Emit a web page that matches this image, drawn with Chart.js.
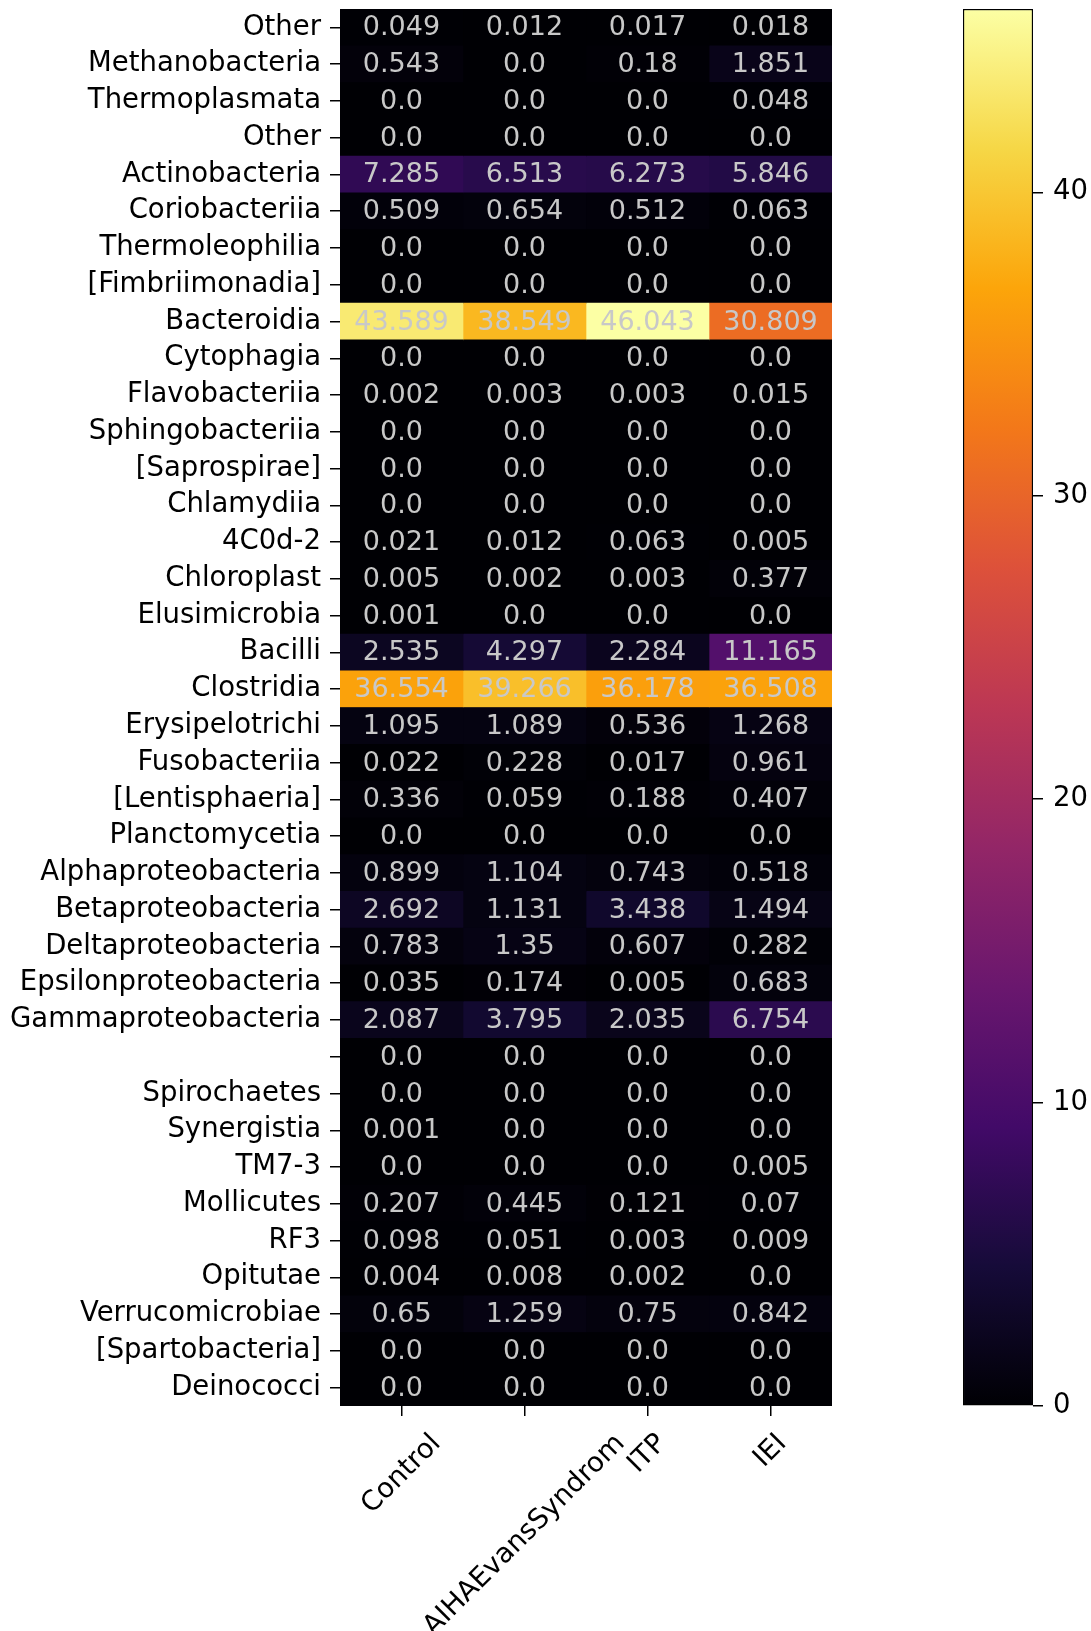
<!DOCTYPE html>
<html>
<head>
<meta charset="utf-8">
<script src="https://cdn.jsdelivr.net/npm/chart.js@4/dist/chart.umd.min.js"></script>
<style>
  html, body { margin: 0; padding: 0; background: #fff; }
  #wrap { position: relative; width: 1091px; height: 1631px; }
  #heat { position: absolute; left: 0; top: 0; }
  #cbar { position: absolute; left: 900px; top: 0; }
</style>
</head>
<body>
<div id="wrap">
  <canvas id="heat" width="860" height="1631"></canvas>
  <canvas id="cbar" width="191" height="1631"></canvas>
</div>
<script>
// Taxonomic classes (rows, top to bottom)
const classes = [
  'Other', 'Methanobacteria', 'Thermoplasmata', 'Other', 'Actinobacteria',
  'Coriobacteriia', 'Thermoleophilia', '[Fimbriimonadia]', 'Bacteroidia', 'Cytophagia',
  'Flavobacteriia', 'Sphingobacteriia', '[Saprospirae]', 'Chlamydiia', '4C0d-2',
  'Chloroplast', 'Elusimicrobia', 'Bacilli', 'Clostridia', 'Erysipelotrichi',
  'Fusobacteriia', '[Lentisphaeria]', 'Planctomycetia', 'Alphaproteobacteria', 'Betaproteobacteria',
  'Deltaproteobacteria', 'Epsilonproteobacteria', 'Gammaproteobacteria', '', 'Spirochaetes',
  'Synergistia', 'TM7-3', 'Mollicutes', 'RF3', 'Opitutae',
  'Verrucomicrobiae', '[Spartobacteria]', 'Deinococci'
];

// Patient groups (columns)
const groups = ['Control', 'AIHAEvansSyndrom', 'ITP', 'IEI'];

// Mean relative abundance (%) per class, one array per group
const control = [
  0.049, 0.543, 0.0, 0.0, 7.285, 0.509, 0.0, 0.0, 43.589, 0.0,
  0.002, 0.0, 0.0, 0.0, 0.021, 0.005, 0.001, 2.535, 36.554, 1.095,
  0.022, 0.336, 0.0, 0.899, 2.692, 0.783, 0.035, 2.087, 0.0, 0.0,
  0.001, 0.0, 0.207, 0.098, 0.004, 0.65, 0.0, 0.0
];
const aihaEvans = [
  0.012, 0.0, 0.0, 0.0, 6.513, 0.654, 0.0, 0.0, 38.549, 0.0,
  0.003, 0.0, 0.0, 0.0, 0.012, 0.002, 0.0, 4.297, 39.266, 1.089,
  0.228, 0.059, 0.0, 1.104, 1.131, 1.35, 0.174, 3.795, 0.0, 0.0,
  0.0, 0.0, 0.445, 0.051, 0.008, 1.259, 0.0, 0.0
];
const itp = [
  0.017, 0.18, 0.0, 0.0, 6.273, 0.512, 0.0, 0.0, 46.043, 0.0,
  0.003, 0.0, 0.0, 0.0, 0.063, 0.003, 0.0, 2.284, 36.178, 0.536,
  0.017, 0.188, 0.0, 0.743, 3.438, 0.607, 0.005, 2.035, 0.0, 0.0,
  0.0, 0.0, 0.121, 0.003, 0.002, 0.75, 0.0, 0.0
];
const iei = [
  0.018, 1.851, 0.048, 0.0, 5.846, 0.063, 0.0, 0.0, 30.809, 0.0,
  0.015, 0.0, 0.0, 0.0, 0.005, 0.377, 0.0, 11.165, 36.508, 1.268,
  0.961, 0.407, 0.0, 0.518, 1.494, 0.282, 0.683, 6.754, 0.0, 0.0,
  0.0, 0.005, 0.07, 0.009, 0.0, 0.842, 0.0, 0.0
];

// Colour bar tick values
const colorbarTicks = [0, 10, 20, 30, 40];

const groupValues = [control, aihaEvans, itp, iei];
const vmin = 0;
const vmax = Math.max(...groupValues.flat());

// Inferno colour map stops
const inferno = [
  '#000004', '#160b39', '#420a68', '#6a176e', '#932667', '#bc3754',
  '#dd513a', '#f37819', '#fca50a', '#f6d746', '#fcffa4'
];
function hexToRgb(h) {
  return [parseInt(h.slice(1, 3), 16), parseInt(h.slice(3, 5), 16), parseInt(h.slice(5, 7), 16)];
}
const infernoRgb = inferno.map(hexToRgb);
function infernoColor(t) {
  t = Math.min(1, Math.max(0, t));
  const pos = t * (infernoRgb.length - 1);
  const i = Math.min(Math.floor(pos), infernoRgb.length - 2);
  const f = pos - i;
  const a = infernoRgb[i], b = infernoRgb[i + 1];
  const c = a.map((v, k) => Math.round(v + (b[k] - v) * f));
  return `rgb(${c[0]},${c[1]},${c[2]})`;
}
function colorFor(v) { return infernoColor((v - vmin) / (vmax - vmin)); }

function fmtValue(v) {
  return Number.isInteger(v) ? v.toFixed(1) : String(v);
}

const FONT = '"DejaVu Sans", "Liberation Sans", sans-serif';
const FS = 27.5;
Chart.defaults.font.family = FONT;
Chart.defaults.font.size = FS;
Chart.defaults.color = '#000';

// Keep tick labels from pushing the plot area inward
function noEdgePadding(scale) {
  scale.paddingTop = 0;
  scale.paddingBottom = 0;
}

// Dark backdrop under the cells
const cellBackdrop = {
  id: 'cellBackdrop',
  beforeDatasetsDraw(chart) {
    const a = chart.chartArea, ctx = chart.ctx;
    ctx.save();
    ctx.fillStyle = infernoColor(0);
    ctx.fillRect(a.left, a.top, a.right - a.left, a.bottom - a.top);
    ctx.restore();
  }
};

// Value annotation inside each cell
const cellText = {
  id: 'cellText',
  afterDatasetsDraw(chart) {
    const ctx = chart.ctx;
    ctx.save();
    ctx.font = `27px ${FONT}`;
    ctx.fillStyle = '#c8c8c8';
    ctx.textAlign = 'center';
    ctx.textBaseline = 'middle';
    chart.data.datasets.forEach((ds, di) => {
      chart.getDatasetMeta(di).data.forEach((bar, ri) => {
        const p = bar.getProps(['x', 'base', 'y'], true);
        ctx.fillText(fmtValue(groupValues[di][ri]), (p.x + p.base) / 2, p.y + 1);
      });
    });
    ctx.restore();
  }
};

// Rotated group names, centred under each column tick
const groupLabels = {
  id: 'groupLabels',
  afterDraw(chart) {
    const ctx = chart.ctx;
    const xs = chart.scales.x;
    const top = chart.chartArea.bottom + 10 + 12;
    const lineH = FS * 1.16;
    ctx.save();
    ctx.font = `${FS}px ${FONT}`;
    ctx.fillStyle = '#000';
    ctx.textAlign = 'center';
    ctx.textBaseline = 'middle';
    groups.forEach((g, i) => {
      const cx = xs.getPixelForValue(i + 0.5);
      const w = ctx.measureText(g).width;
      const boxH = (w + lineH) * Math.SQRT1_2;
      ctx.save();
      ctx.translate(cx, top + boxH / 2);
      ctx.rotate(-Math.PI / 4);
      ctx.fillText(g, 0, 0);
      ctx.restore();
    });
    ctx.restore();
  }
};

new Chart(document.getElementById('heat'), {
  type: 'bar',
  data: {
    labels: classes,
    datasets: groupValues.map((vals, gi) => ({
      label: groups[gi],
      data: vals.map(() => [gi, gi + 1]),
      backgroundColor: vals.map(colorFor),
      borderWidth: 0,
      grouped: false,
      barPercentage: 1,
      categoryPercentage: 1
    }))
  },
  options: {
    indexAxis: 'y',
    responsive: false,
    animation: false,
    events: [],
    layout: { padding: { top: 9, right: 28, left: 0, bottom: 0 } },
    plugins: { legend: { display: false }, tooltip: { enabled: false } },
    scales: {
      y: {
        type: 'category',
        offset: true,
        border: { display: false },
        grid: { offset: false, drawOnChartArea: false, drawTicks: true, tickLength: 10, color: '#000', lineWidth: 1.5 },
        ticks: { autoSkip: false, padding: 9, color: '#000', font: { size: FS } },
        afterFit(scale) { scale.width = 340; noEdgePadding(scale); }
      },
      x: {
        type: 'linear',
        min: 0,
        max: groups.length,
        border: { display: false },
        grid: { drawOnChartArea: false, drawTicks: true, tickLength: 10, color: '#000', lineWidth: 1.5 },
        ticks: { callback: () => '', maxRotation: 0, autoSkip: false },
        afterBuildTicks(scale) { scale.ticks = groups.map((g, i) => ({ value: i + 0.5 })); },
        afterFit(scale) { scale.height = 225; }
      }
    }
  },
  plugins: [cellBackdrop, cellText, groupLabels]
});

// Colour bar
new Chart(document.getElementById('cbar'), {
  type: 'bar',
  data: {
    labels: [''],
    datasets: [{
      data: [[vmin, vmax]],
      backgroundColor(ctx) {
        const area = ctx.chart.chartArea;
        if (!area) return null;
        const g = ctx.chart.ctx.createLinearGradient(0, area.bottom, 0, area.top);
        inferno.forEach((c, i) => g.addColorStop(i / (inferno.length - 1), c));
        return g;
      },
      borderColor: '#000',
      borderWidth: 1.5,
      borderSkipped: false,
      barPercentage: 1,
      categoryPercentage: 1
    }]
  },
  options: {
    responsive: false,
    animation: false,
    events: [],
    layout: { padding: { top: 9, left: 63, right: 0, bottom: 225 } },
    plugins: { legend: { display: false }, tooltip: { enabled: false } },
    scales: {
      x: { display: false },
      y: {
        position: 'right',
        min: vmin,
        max: vmax,
        border: { display: false },
        grid: { drawOnChartArea: false, drawTicks: true, tickLength: 10, color: '#000', lineWidth: 1.5 },
        ticks: { padding: 10, color: '#000', font: { size: FS }, includeBounds: false },
        afterBuildTicks(scale) { scale.ticks = colorbarTicks.map(v => ({ value: v })); },
        afterFit(scale) { scale.width = 58; noEdgePadding(scale); }
      }
    }
  }
});
</script>
</body>
</html>
